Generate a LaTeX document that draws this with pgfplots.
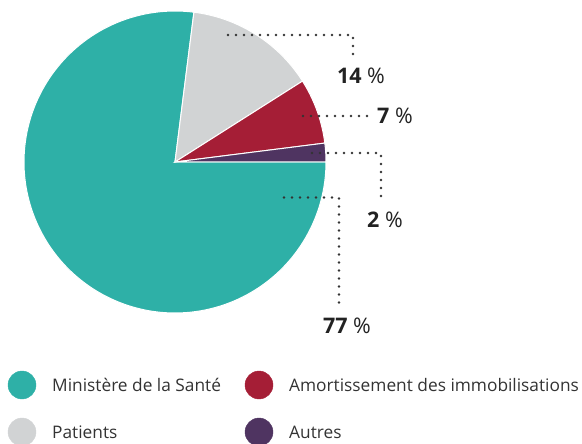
\documentclass[border=0pt]{standalone}
\usepackage{pgfplots}
\pgfplotsset{compat=1.18}
\usepackage{fontspec}
\setmainfont{Open Sans}
\definecolor{cTeal}{HTML}{2EB0A7}
\definecolor{cGray}{HTML}{D1D3D4}
\definecolor{cRed}{HTML}{A51E36}
\definecolor{cPurple}{HTML}{4F3461}
\definecolor{cDot}{HTML}{333333}
\definecolor{cText}{HTML}{222222}
% shares in percent
\def\pAutres{2}
\def\pAmort{7}
\def\pPatients{14}
\def\pMinistere{77}
\tikzset{
  lbl/.style={font=\fontsize{21.5}{24}\selectfont, text=cText, inner sep=0pt},
  leg/.style={font=\fontsize{17.3}{20}\selectfont, text=cDot, anchor=west, inner sep=0pt},
}
\begin{document}
\begin{tikzpicture}
\begin{axis}[
  width=582pt, height=444pt, scale only axis,
  xmin=0, xmax=582, ymin=0, ymax=444, y dir=reverse,
  hide axis, clip=false,
  dots/.style={cDot, line width=2.6pt, line cap=round, dash pattern=on 0pt off 8pt},
]
% pie slices (angles from cumulative shares)
\pgfmathsetmacro\aA{0}
\pgfmathsetmacro\aB{\pAutres*3.6}
\pgfmathsetmacro\aC{(\pAutres+\pAmort)*3.6}
\pgfmathsetmacro\aD{(\pAutres+\pAmort+\pPatients)*3.6}
\pgfmathsetmacro\aE{(\pAutres+\pAmort+\pPatients+\pMinistere)*3.6}
\addplot[fill=cTeal, draw=white, line width=1pt, domain=\aD:\aE, samples=150, variable=\t]
  ({175+151*cos(\t)}, {162-151*sin(\t)}) -- (175,162) -- cycle;
\addplot[fill=cGray, draw=white, line width=1pt, domain=\aC:\aD, samples=40, variable=\t]
  ({175+151*cos(\t)}, {162-151*sin(\t)}) -- (175,162) -- cycle;
\addplot[fill=cRed, draw=white, line width=1pt, domain=\aB:\aC, samples=30, variable=\t]
  ({175+151*cos(\t)}, {162-151*sin(\t)}) -- (175,162) -- cycle;
\addplot[fill=cPurple, draw=white, line width=1pt, domain=\aA:\aB, samples=10, variable=\t]
  ({175+151*cos(\t)}, {162-151*sin(\t)}) -- (175,162) -- cycle;
% leader lines
\addplot[dots] coordinates {(228,35) (353,35) (353,59)};
\addplot[dots] coordinates {(303,116) (371,116)};
\addplot[dots] coordinates {(312,153) (381,153) (381,201)};
\addplot[dots] coordinates {(284,197.5) (339,197.5) (339,306)};
% value labels
\node[lbl] at (axis cs:361,76) {\textbf{\pPatients} \%};
\node[lbl, anchor=west] at (axis cs:377,116) {\textbf{\pAmort} \%};
\node[lbl] at (axis cs:385,220) {\textbf{\pAutres} \%};
\node[lbl] at (axis cs:347,326) {\textbf{\pMinistere} \%};
% legend
\addplot[only marks, mark=*, mark size=14pt, color=cTeal] coordinates {(22,385)};
\addplot[only marks, mark=*, mark size=14pt, color=cGray] coordinates {(22,432)};
\addplot[only marks, mark=*, mark size=14pt, color=cRed] coordinates {(259,385)};
\addplot[only marks, mark=*, mark size=14pt, color=cPurple] coordinates {(259,432)};
\node[leg] at (axis cs:52,385) {Ministère de la Santé};
\node[leg] at (axis cs:52,432) {Patients};
\node[leg] at (axis cs:289,385) {Amortissement des immobilisations};
\node[leg] at (axis cs:289,432) {Autres};
\end{axis}
\pgfresetboundingbox
\path (current axis.south west) rectangle (current axis.north east);
\end{tikzpicture}
\end{document}
